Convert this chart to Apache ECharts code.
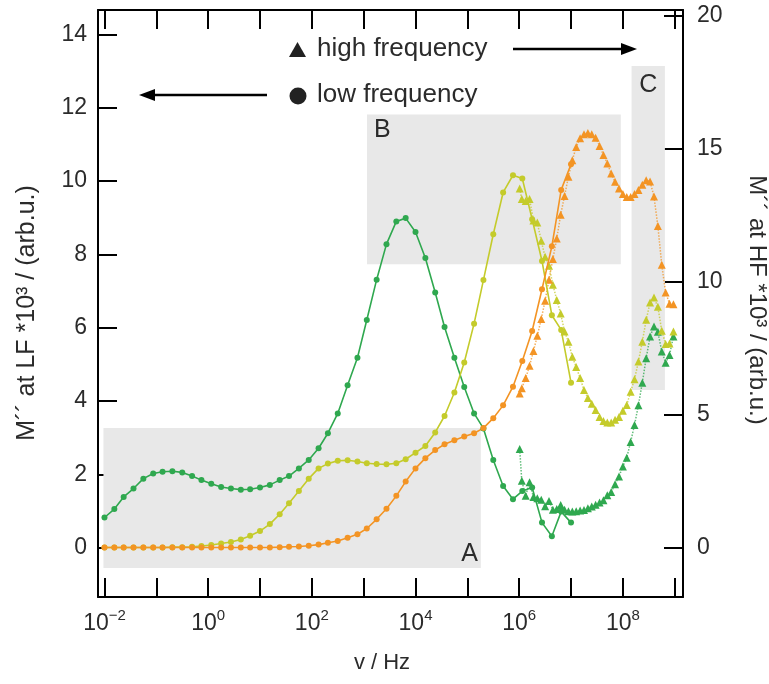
<!DOCTYPE html>
<html>
<head>
<meta charset="utf-8">
<script src="https://cdn.jsdelivr.net/npm/echarts@6/dist/echarts.min.js"></script>
<style>
html,body{margin:0;padding:0;background:#fff;}
#chart{width:769px;height:684px;}
</style>
</head>
<body>
<div id="chart"></div>
<script>
// x values are log10(frequency / Hz)
var lfLogF = [-2, -1.81, -1.63, -1.44, -1.25, -1.06, -0.88, -0.69, -0.5, -0.31, -0.13, 0.06, 0.25, 0.44, 0.63, 0.81, 1.0, 1.19, 1.38, 1.56, 1.75, 1.94, 2.13, 2.31, 2.5, 2.69, 2.88, 3.06, 3.25, 3.44, 3.63, 3.81, 4.0, 4.19, 4.38, 4.56, 4.75, 4.94, 5.13, 5.31, 5.5, 5.69, 5.88, 6.06, 6.25, 6.44, 6.63, 6.81, 7.0];
var lf0C = [0.82,1.05,1.38,1.61,1.88,2.02,2.07,2.08,2.05,1.95,1.84,1.74,1.65,1.61,1.58,1.59,1.64,1.71,1.84,1.95,2.16,2.39,2.71,3.12,3.66,4.43,5.18,6.21,7.31,8.28,8.90,8.99,8.61,7.90,6.96,6.02,5.18,4.38,3.66,3.25,2.39,1.68,1.32,1.54,1.64,0.68,0.31,0.98,0.68];
var lf100C = [0,0,0,0,0,0,0,0.01,0.01,0.02,0.04,0.07,0.11,0.15,0.22,0.32,0.45,0.64,0.91,1.21,1.54,1.88,2.16,2.29,2.37,2.38,2.35,2.30,2.28,2.27,2.30,2.41,2.59,2.77,3.14,3.59,4.23,5.05,6.11,7.30,8.55,9.69,10.16,10.07,8.96,7.82,6.34,5.94,4.50];
var lf200C = [0,0,0,0,0,0,0,0,0,0,0,0,0,0,0,0,0,0,0.01,0.02,0.03,0.05,0.08,0.13,0.18,0.27,0.36,0.52,0.77,1.06,1.41,1.80,2.16,2.44,2.66,2.82,2.93,3.03,3.12,3.26,3.53,3.88,4.39,5.09,5.91,7.05,8.22,9.76,10.46];

var hfLogF = [6.01, 6.05, 6.125, 6.2, 6.275, 6.35, 6.425, 6.5, 6.575, 6.65, 6.725, 6.8, 6.875, 6.95, 7.025, 7.1, 7.175, 7.25, 7.325, 7.4, 7.475, 7.55, 7.625, 7.7, 7.775, 7.85, 7.925, 8.0, 8.075, 8.15, 8.225, 8.3, 8.375, 8.45, 8.525, 8.6, 8.675, 8.75, 8.825, 8.9, 8.975];
var hf0C = [3.70,2.51,1.95,2.45,1.90,1.85,1.80,1.55,1.75,1.42,1.45,1.60,1.42,1.36,1.35,1.36,1.39,1.41,1.48,1.54,1.61,1.69,1.78,1.97,2.09,2.38,2.67,3.05,3.38,3.97,4.61,5.35,6.20,7.12,7.93,8.31,8.11,7.37,6.95,7.24,7.93];
var hf100C = [13.50,13.10,13.03,13.10,12.30,12.22,11.53,10.93,10.59,9.88,9.31,8.80,8.12,7.74,7.17,6.79,6.37,5.92,5.62,5.41,5.17,4.91,4.76,4.70,4.70,4.80,4.91,5.14,5.36,5.86,6.33,6.99,7.74,8.56,9.21,9.40,9.05,8.15,7.65,7.67,8.12];
var hf200C = [5.79,5.99,6.37,6.83,7.39,7.96,8.59,9.28,10.07,10.85,11.62,12.51,13.22,13.94,14.56,15.06,15.39,15.54,15.59,15.54,15.41,15.10,14.76,14.44,14.06,13.75,13.50,13.29,13.18,13.18,13.29,13.44,13.64,13.81,13.76,13.20,12.09,10.63,9.59,9.17,9.15];

var xTickExps = [-2,-1,0,1,2,3,4,5,6,7,8,9];
var xLabelExps = [-2,0,2,4,6,8];
var yLeftTicks = [0,2,4,6,8,10,12,14];
var yRightTicks = [0,5,10,15,20];

var temps = ['0°C','100°C','200°C'];
var colors = ['#2fa84f','#c4cb2b','#f39424'];

var FONT = '"Liberation Sans", Arial, sans-serif';
var TXT = '#2b2b2b';

function pair(xs, ys){ return xs.map(function(x,i){ return [x, ys[i]]; }); }
function supStr(n){ return n < 0 ? '\u2212' + (-n) : String(n); }

var chart = echarts.init(document.getElementById('chart'), null, {renderer:'canvas'});

var axisLineStyle = {color:'#000', width:2};
var tickStyle = {color:'#000', width:2};

var lfSets = [lf0C, lf100C, lf200C];
var hfSets = [hf0C, hf100C, hf200C];
var series = [];

for (var t = 0; t < 3; t++) {
  series.push({
    name: temps[t] + ' HF',
    type: 'line', xAxisIndex: 0, yAxisIndex: 1,
    data: pair(hfLogF, hfSets[t]),
    symbol: 'triangle', symbolSize: 8,
    itemStyle: {color: colors[t]},
    lineStyle: {color: colors[t], width: 1.5, type: 'dotted', opacity: 0.75},
    z: 3, animation: false, silent: true
  });
}
for (var t2 = 0; t2 < 3; t2++) {
  var s = {
    name: temps[t2] + ' LF',
    type: 'line', xAxisIndex: 0, yAxisIndex: 0,
    data: pair(lfLogF, lfSets[t2]),
    symbol: 'circle', symbolSize: 6,
    itemStyle: {color: colors[t2]},
    lineStyle: {color: colors[t2], width: 1.6},
    z: 4, animation: false, silent: true
  };
  if (t2 === 0) {
    s.markArea = {
      silent: true, z: 1,
      itemStyle: {color: '#e8e8e8', borderWidth: 0},
      label: {fontSize: 25, color: TXT, fontFamily: FONT},
      data: [
        [{name:'A', coord:[-2.02, 3.26], label:{position:'insideBottomRight', distance:1, offset:[-2,0]}}, {coord:[5.26, -0.56]}],
        [{name:'B', coord:[3.064, 11.82], label:{position:'insideTopLeft', distance:3, offset:[4,0]}}, {coord:[7.96, 7.73]}],
        [{name:'C', coord:[8.168, 13.14], label:{position:'insideTop', distance:7}}, {coord:[8.811, 4.30]}]
      ]
    };
  }
  series.push(s);
}

var option = {
  animation: false,
  backgroundColor: '#fff',
  grid: {left: 98, right: 86, top: 10, bottom: 87, containLabel: false},
  xAxis: [{
    type: 'value', position: 'bottom', min: -2.125, max: 9.16,
    axisLine: {show: true, onZero: false, lineStyle: axisLineStyle},
    axisTick: {show: true, inside: true, length: 19, lineStyle: tickStyle, customValues: xTickExps},
    axisLabel: {
      show: true, margin: 11, customValues: xLabelExps,
      formatter: function(v){ return '{b|10}{s|' + supStr(Math.round(v)) + '}'; },
      rich: {
        b: {fontSize: 23, lineHeight: 27, color: TXT, fontFamily: FONT, verticalAlign: 'bottom'},
        s: {fontSize: 15, lineHeight: 15, color: TXT, fontFamily: FONT, verticalAlign: 'top'}
      }
    },
    splitLine: {show: false}
  }, {
    type: 'value', position: 'top', min: -2.125, max: 9.16,
    axisLine: {show: true, onZero: false, lineStyle: axisLineStyle},
    axisTick: {show: true, inside: true, length: 19, lineStyle: tickStyle, customValues: xTickExps},
    axisLabel: {show: false},
    splitLine: {show: false}
  }],
  yAxis: [{
    type: 'value', position: 'left', min: -1.35, max: 14.67,
    axisLine: {show: true, onZero: false, lineStyle: axisLineStyle},
    axisTick: {show: true, inside: true, length: 19, lineStyle: tickStyle, customValues: yLeftTicks},
    axisLabel: {show: true, margin: 11, fontSize: 23, color: TXT, fontFamily: FONT, customValues: yLeftTicks},
    splitLine: {show: false}
  }, {
    type: 'value', position: 'right', min: -1.86, max: 20.21,
    axisLine: {show: true, onZero: false, lineStyle: axisLineStyle},
    axisTick: {show: true, inside: true, length: 19, lineStyle: tickStyle, customValues: yRightTicks},
    axisLabel: {show: true, margin: 14, fontSize: 23, color: TXT, fontFamily: FONT, customValues: yRightTicks},
    splitLine: {show: false}
  }],
  series: series,
  graphic: [
    // legend: high frequency
    {type:'polygon', shape:{points:[[297.5,42],[306,57],[289,57]]}, style:{fill:'#222'}},
    {type:'text', x:317, y:49, style:{text:'high frequency', font:'26px ' + FONT, fill:TXT, textVerticalAlign:'middle', textAlign:'left'}},
    {type:'line', shape:{x1:513, y1:49, x2:624, y2:49}, style:{stroke:'#000', lineWidth:2.5}},
    {type:'polygon', shape:{points:[[637,49],[621,43],[621,55]]}, style:{fill:'#000'}},
    // legend: low frequency
    {type:'circle', shape:{cx:298, cy:96, r:8.5}, style:{fill:'#222'}},
    {type:'text', x:317, y:95, style:{text:'low frequency', font:'26px ' + FONT, fill:TXT, textVerticalAlign:'middle', textAlign:'left'}},
    {type:'line', shape:{x1:267, y1:95, x2:152, y2:95}, style:{stroke:'#000', lineWidth:2.5}},
    {type:'polygon', shape:{points:[[139,95],[155,89],[155,101]]}, style:{fill:'#000'}},
    // temperature annotations
    {type:'text', x:168, y:460, style:{text:'0°C', font:'19px ' + FONT, fill:colors[0], textAlign:'center', textVerticalAlign:'middle'}},
    {type:'text', x:240, y:511, style:{text:'100°C', font:'19px ' + FONT, fill:colors[1], textAlign:'center', textVerticalAlign:'middle'}},
    {type:'text', x:321, y:532, style:{text:'200°C', font:'19px ' + FONT, fill:colors[2], textAlign:'center', textVerticalAlign:'middle'}},
    // axis titles
    {type:'text', x:27, y:313, rotation:Math.PI/2, style:{text:'M\u00b4\u00b4 at LF *10\u00b3 / (arb.u.)', font:'25px ' + FONT, fill:TXT, textAlign:'center', textVerticalAlign:'middle'}},
    {type:'text', x:757, y:300, rotation:-Math.PI/2, style:{text:'M\u00b4\u00b4 at HF *10\u00b3 / (arb.u.)', font:'24px ' + FONT, fill:TXT, textAlign:'center', textVerticalAlign:'middle'}},
    {type:'text', x:382, y:663, style:{text:'v / Hz', font:'22px ' + FONT, fill:TXT, textAlign:'center', textVerticalAlign:'middle'}}
  ]
};
chart.setOption(option);
</script>
</body>
</html>
